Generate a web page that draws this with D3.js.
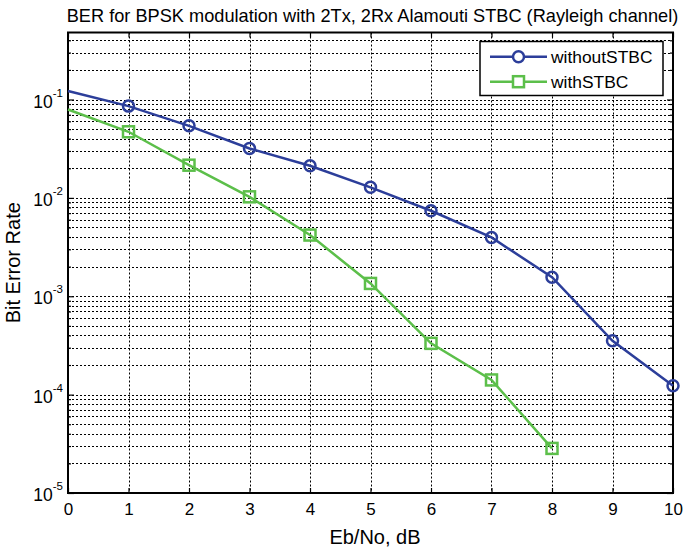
<!DOCTYPE html>
<html><head><meta charset="utf-8">
<script src="https://cdn.jsdelivr.net/npm/d3@7"></script>
<style>body{margin:0;background:#fff}svg{display:block}text{font-family:"Liberation Sans",Arial,sans-serif}</style>
</head><body>
<svg id="c" width="683" height="552"></svg>
<script>
const ebno = [0,1,2,3,4,5,6,7,8,9,10];
const withoutSTBC = [0.122,0.0857,0.054,0.0318,0.0212,0.0128,0.0074,0.00396,0.00156,3.53e-4,1.23e-4];
const ebnoSTBC = [0,1,2,3,4,5,6,7,8];
const withSTBC = [0.0792,0.047,0.0215,0.01025,0.00419,0.00135,3.32e-4,1.41e-4,2.84e-5];
const xTicks = [0,1,2,3,4,5,6,7,8,9,10];
const yDecades = [-5,-4,-3,-2,-1];
const titleText = "BER for BPSK modulation with 2Tx, 2Rx Alamouti STBC (Rayleigh channel)";
const seriesNames = ["withoutSTBC","withSTBC"];
const colors = ["#2c3e9a","#5cbf4a"];

const svg = d3.select("#c");
const L=68,R=673,T=32.5,B=493;
const x = d3.scaleLinear().domain([0,10]).range([L,R]);
const y = d3.scaleLog().domain([1e-5,0.48]).range([B,T]);

// grid
const g = svg.append("g");
const minor = [];
for (let d=-5; d<=-1; d++) for (let k=1;k<=9;k++){ const v=k*Math.pow(10,d); if(v>1e-5 && v<0.48) minor.push(v); }
g.selectAll(".hg").data(minor).join("line")
 .attr("x1",L).attr("x2",R).attr("y1",d=>Math.round(y(d))+0.5).attr("y2",d=>Math.round(y(d))+0.5)
 .attr("stroke","#000").attr("stroke-width",1).attr("stroke-dasharray","2,2");
g.selectAll(".vg").data(xTicks.slice(1,-1)).join("line")
 .attr("x1",d=>Math.round(x(d))+0.5).attr("x2",d=>Math.round(x(d))+0.5).attr("y1",T).attr("y2",B)
 .attr("stroke","#000").attr("stroke-width",1).attr("stroke-dasharray","2,2");

// axes ticks (inside) via d3 axis
const xa = d3.axisBottom(x).tickValues(xTicks).tickSize(-5).tickPadding(0).tickFormat(d3.format("d"));
const xg = svg.append("g").attr("transform",`translate(0,${B})`).call(xa);
svg.append("g").attr("transform",`translate(0,${T})`).call(d3.axisTop(x).tickValues(xTicks).tickSize(-5).tickFormat(""));
const decVals = yDecades.map(d=>Math.pow(10,d));
const minorOnly = minor.filter(v=>!decVals.some(dv=>Math.abs(dv-v)/dv<1e-9));
svg.append("g").attr("transform",`translate(${L},0)`).call(d3.axisLeft(y).tickValues(decVals).tickSize(-6).tickFormat(""));
svg.append("g").attr("transform",`translate(${L},0)`).call(d3.axisLeft(y).tickValues(minorOnly).tickSize(-3).tickFormat(""));
svg.append("g").attr("transform",`translate(${R},0)`).call(d3.axisRight(y).tickValues(decVals).tickSize(-6).tickFormat(""));
svg.append("g").attr("transform",`translate(${R},0)`).call(d3.axisRight(y).tickValues(minorOnly).tickSize(-3).tickFormat(""));
svg.selectAll(".domain").remove();
svg.selectAll(".tick line").attr("stroke","#000").attr("stroke-width",1.2);
xg.selectAll("text").attr("font-size",17).attr("fill","#000").attr("dy",null).attr("y",22);
// y labels with superscript
yDecades.forEach(d=>{
  const t = svg.append("text").attr("x",63).attr("y",y(Math.pow(10,d))+8).attr("text-anchor","end").attr("font-size",17.5);
  t.append("tspan").text("10");
  t.append("tspan").text(d).attr("font-size",11.5).attr("dy",-11);
});
// box
svg.append("rect").attr("x",L).attr("y",T).attr("width",R-L).attr("height",B-T).attr("fill","none").attr("stroke","#000").attr("stroke-width",2);

// lines
const line = d3.line().x(d=>x(d[0])).y(d=>y(d[1]));
const s1 = ebno.map((e,i)=>[e,withoutSTBC[i]]);
const s2 = ebnoSTBC.map((e,i)=>[e,withSTBC[i]]);
svg.append("path").datum(s1).attr("d",line).attr("fill","none").attr("stroke",colors[0]).attr("stroke-width",2.5);
svg.append("path").datum(s2).attr("d",line).attr("fill","none").attr("stroke",colors[1]).attr("stroke-width",2.5);
svg.selectAll(".m1").data(s1.filter(d=>d[0]>0)).join("circle").attr("cx",d=>x(d[0])).attr("cy",d=>y(d[1])).attr("r",5.5)
 .attr("fill","none").attr("stroke",colors[0]).attr("stroke-width",2.5);
svg.selectAll(".m2").data(s2.filter(d=>d[0]>0)).join("rect").attr("x",d=>x(d[0])-5.5).attr("y",d=>y(d[1])-5.5).attr("width",11).attr("height",11)
 .attr("fill","none").attr("stroke",colors[1]).attr("stroke-width",2.5);

// legend
const lg = svg.append("g");
lg.append("rect").attr("x",480).attr("y",41.5).attr("width",183).attr("height",54).attr("fill","#fff").attr("stroke","#000").attr("stroke-width",1.5);
[0,1].forEach(i=>{
  const yy = 56.7 + i*25;
  lg.append("line").attr("x1",490).attr("x2",547).attr("y1",yy).attr("y2",yy).attr("stroke",colors[i]).attr("stroke-width",2.5);
  if(i===0) lg.append("circle").attr("cx",518.5).attr("cy",yy).attr("r",5.5).attr("fill","#fff").attr("stroke",colors[i]).attr("stroke-width",2.5);
  else lg.append("rect").attr("x",513).attr("y",yy-5.5).attr("width",11).attr("height",11).attr("fill","#fff").attr("stroke",colors[i]).attr("stroke-width",2.5);
  lg.append("text").attr("x",551).attr("y",yy+6).attr("font-size",17.4).text(seriesNames[i]);
});

// titles
svg.append("text").attr("x",372.5).attr("y",22).attr("text-anchor","middle").attr("font-size",18.2).text(titleText);
svg.append("text").attr("x",375).attr("y",544).attr("text-anchor","middle").attr("font-size",20).text("Eb/No, dB");
svg.append("text").attr("transform",`translate(20,${(T+B)/2}) rotate(-90)`).attr("text-anchor","middle").attr("font-size",20).text("Bit Error Rate");
</script>
</body></html>
